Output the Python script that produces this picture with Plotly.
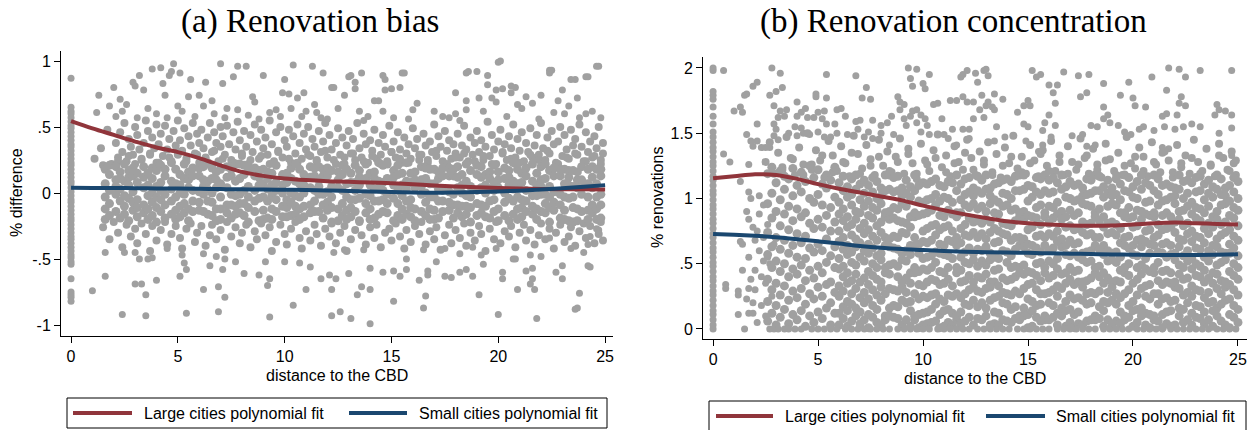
import plotly.graph_objects as go

W, H = 1248, 430
GREY = "#A0A0A0"
RED = "#90353B"
NAVY = "#1A476F"
SANS = "Liberation Sans, Arial, sans-serif"
SERIF = "Liberation Serif, Times New Roman, serif"

# ---------------- fitted curves ----------------
FIT_X = [0, 1, 2, 3, 4, 5, 6, 7, 8, 9, 10, 11, 12, 13, 14, 15, 16, 17, 18, 19, 20, 21, 22, 23, 24, 25]
A_LARGE_Y = [0.545, 0.49, 0.44, 0.39, 0.345, 0.31, 0.265, 0.21, 0.16, 0.13, 0.11, 0.098, 0.09, 0.085, 0.079,
             0.074, 0.066, 0.057, 0.05, 0.044, 0.038, 0.034, 0.031, 0.029, 0.028, 0.027]
A_SMALL_Y = [0.04, 0.039, 0.038, 0.037, 0.035, 0.034, 0.032, 0.03, 0.028, 0.027, 0.025, 0.023, 0.02, 0.016, 0.012,
             0.008, 0.004, 0.002, 0.004, 0.007, 0.012, 0.018, 0.026, 0.036, 0.048, 0.06]
B_LARGE_Y = [1.155, 1.17, 1.185, 1.18, 1.15, 1.11, 1.075, 1.045, 1.015, 0.985, 0.945, 0.91, 0.878, 0.85, 0.825,
             0.81, 0.8, 0.793, 0.79, 0.792, 0.8, 0.81, 0.815, 0.81, 0.805, 0.8]
B_SMALL_Y = [0.728, 0.722, 0.714, 0.703, 0.688, 0.672, 0.654, 0.636, 0.622, 0.612, 0.605, 0.598, 0.592, 0.588,
             0.585, 0.583, 0.58, 0.577, 0.574, 0.571, 0.569, 0.567, 0.566, 0.567, 0.569, 0.572]

# ---------------- panel (a) observations: distance in tenths, value in hundredths ----------------
A_AXIS_Y = [87, 65, 62, 60, 57, 54, 51, 49, 46, 43, 40, 37, 35, 32, 29, 26, 23, 21, 18, 15, 12, 9, 7, 4, 1, -2,
            -5, -7, -10, -13, -16, -19, -21, -24, -27, -30, -33, -35, -38, -41, -44, -47, -49, -52, -54, -65,
            -75, -77, -79, -82]

A_OUT_XY = [13, 74, 12, 61, 18, 66, 20, 80, 21, 58, 23, 71, 26, 67, 29, 84, 30, 81, 32, 89, 34, 78, 38, 94, 42, 95,
            43, 83, 46, 89, 48, 98, 47, 92, 51, 91, 56, 86, 63, 84, 70, 98, 71, 83, 76, 88, 78, 96, 82, 96, 90, 89,
            100, 86, 104, 97, 113, 96, 118, 91, 44, 74, 50, 66, 55, 73, 60, 74, 66, 70, 73, 64, 85, 73, 86, 69,
            96, 63, 99, 76, 102, 75, 106, 72, 109, 76, 110, 62, 114, 67, 117, 57,
            200, 99, 185, 91, 190, 92, 195, 89, 195, 82, 199, 78, 202, 79, 206, 81, 208, 80, 206, 76, 224, 93,
            224, 91, 234, 86, 241, 88, 246, 96, 131, 89, 136, 91, 133, 84, 133, 79, 146, 89, 147, 86, 155, 91,
            147, 78, 150, 79, 154, 80, 128, 74, 122, 80, 144, 70, 180, 76, 185, 70, 191, 72, 197, 72, 199, 69,
            209, 67, 213, 73, 220, 74, 216, 68, 228, 70, 230, 78, 237, 72, 231, 60, 241, 60, 238, 57, 162, 68,
            160, 63, 177, 57, 180, 60, 185, 63, 135, 62, 137, 55, 146, 62, 151, 57, 123, 80, 130, 88, 142, 70,
            156, 91, 186, 92, 201, 100, 225, 93, 236, 86, 242, 88, 247, 96,
            24, 62, 31, 57, 36, 64, 40, 60, 45, 57, 52, 62, 58, 58, 62, 66, 67, 60, 72, 57, 78, 63, 83, 59, 88, 56,
            93, 61, 98, 58, 103, 64, 108, 58, 115, 61, 120, 56, 125, 64, 139, 58, 158, 56, 170, 62, 174, 58,
            182, 55, 193, 62, 204, 58, 211, 64, 219, 56, 226, 61, 233, 66, 244, 62, 248, 57,
            10, -74, 16, -63, 16, -45, 24, -92, 35, -93, 30, -69, 33, -69, 35, -77, 40, -66, 25, -45, 30, -45,
            32, -50, 36, -50, 38, -49, 45, -42, 51, -63, 52, -47, 53, -53, 54, -58, 54, -91, 62, -73, 62, -46,
            65, -55, 69, -71, 69, -90, 72, -79, 68, -48, 71, -58, 72, -50, 77, -52, 81, -61, 88, -62, 91, -52,
            93, -65, 92, -70, 93, -94, 100, -52, 104, -85, 110, -73, 107, -53, 112, -56, 117, -65, 122, -93,
            122, -73, 121, -62, 126, -90, 131, -95, 140, -99, 151, -82, 165, -87, 166, -78, 191, -77, 200, -92,
            218, -95, 236, -88, 237, -87, 238, -76, 209, -73, 215, -69, 217, -73, 124, -65, 130, -61, 134, -77,
            136, -71, 140, -73, 140, -57, 146, -60, 151, -59, 154, -63, 157, -58, 163, -66, 167, -62, 171, -52,
            175, -63, 178, -64, 182, -60, 185, -58, 188, -63, 193, -54, 202, -65, 202, -60, 207, -50, 213, -59,
            216, -57, 216, -65, 227, -60, 230, -65, 230, -55, 242, -55, 243, -56, 234, -42, 240, -45, 243, -33,
            246, -27, 247, -28, 242, -39, 224, -34, 220, -48, 215, -47, 208, -50, 199, -42, 192, -47, 188, -41,
            182, -46, 175, -42, 165, -43, 167, -59, 157, -50, 137, -43, 128, -43, 123, -45]

A_UP_XY = [11, 26, 14, 34, 17, 48, 19, 22, 15, 21, 21, 38, 22, 27, 23, 46, 24, 31, 25, 53, 26, 24, 27, 41, 28, 35,
           29, 29, 30, 50, 30, 22, 31, 44, 32, 33, 33, 26, 34, 38, 35, 55, 36, 47, 37, 29, 38, 42, 39, 34, 40, 23,
           40, 52, 41, 37, 42, 45, 43, 28, 44, 51, 45, 33, 46, 41, 47, 24, 48, 47, 49, 36, 50, 29, 50, 55, 51, 40,
           52, 32, 53, 49, 54, 26, 55, 43, 56, 36, 57, 53, 58, 30, 59, 45, 60, 23, 60, 38, 61, 48, 62, 34, 63, 27,
           64, 42, 65, 53, 66, 31, 67, 46, 68, 38, 69, 24, 70, 50, 70, 35, 71, 43, 72, 29, 73, 51, 74, 37, 75, 25,
           76, 46, 77, 33, 78, 54, 79, 40, 80, 28, 81, 47, 82, 35, 83, 22, 84, 44, 85, 31, 86, 52, 87, 39, 88, 26,
           89, 48, 90, 34, 91, 42, 92, 29, 93, 55, 94, 37, 95, 24, 96, 46, 97, 32, 98, 50, 99, 27, 100, 40,
           101, 35, 102, 48, 103, 23, 104, 43, 105, 30, 106, 52, 107, 38, 108, 26, 109, 45, 110, 33, 111, 50,
           112, 28, 113, 41, 114, 35, 115, 24, 116, 47, 117, 31, 118, 39, 119, 53, 120, 27, 121, 44, 122, 33,
           123, 25, 124, 38, 125, 49, 126, 29, 127, 42, 128, 22, 129, 36, 130, 47, 131, 30, 132, 41, 133, 25,
           134, 53, 135, 34, 136, 27, 137, 45, 138, 37, 139, 23, 140, 40, 141, 32, 142, 48, 143, 26, 144, 38,
           145, 29, 146, 44, 147, 35, 148, 24, 149, 51, 150, 31, 151, 39, 152, 27, 153, 46, 154, 33, 155, 23,
           156, 42, 157, 30, 158, 37, 159, 26, 160, 49, 161, 34, 162, 41, 163, 25, 164, 29, 165, 45, 166, 36,
           167, 23, 168, 39, 169, 31, 170, 52, 171, 28, 172, 43, 173, 35, 174, 24, 175, 47, 176, 32, 177, 40,
           178, 26, 179, 37, 180, 30, 181, 45, 182, 27, 183, 36, 184, 51, 185, 33, 186, 24, 187, 42, 188, 29,
           189, 38, 190, 47, 191, 31, 192, 40, 193, 25, 194, 35, 195, 54, 196, 28, 197, 44, 198, 33, 199, 22,
           200, 39, 201, 48, 202, 30, 203, 37, 204, 25, 205, 43, 206, 34, 207, 52, 208, 27, 209, 41, 210, 32,
           211, 46, 212, 24, 213, 38, 214, 31, 215, 49, 216, 27, 217, 36, 218, 44, 219, 29, 220, 53, 221, 34,
           222, 25, 223, 42, 224, 30, 225, 47, 226, 37, 227, 23, 228, 39, 229, 50, 230, 28, 231, 44, 232, 33,
           233, 26, 234, 48, 235, 36, 236, 41, 237, 29, 238, 52, 239, 35, 240, 24, 241, 46, 242, 31, 243, 39,
           244, 27, 245, 43, 246, 34, 247, 50, 248, 25, 249, 38, 249, 30,
           22, 24, 27, 28, 33, 25, 37, 30, 41, 23, 46, 27, 50, 31, 54, 24, 59, 29, 63, 22, 67, 32, 71, 26, 76, 23,
           80, 30, 84, 25, 89, 28, 93, 22, 97, 31, 102, 26, 106, 23, 111, 29, 115, 25, 119, 32, 124, 22, 128, 27,
           132, 30, 137, 24, 141, 28, 145, 22, 150, 31, 154, 26, 158, 23, 163, 29, 167, 25, 171, 32, 176, 22,
           180, 27, 184, 30, 189, 24, 193, 28, 197, 22, 202, 31, 206, 26, 210, 23, 215, 29, 219, 25, 223, 32,
           228, 22, 232, 27, 236, 30, 241, 24, 245, 28, 248, 22]

A_LOW_XY = [15, -26, 18, -35, 20, -22, 22, -30, 24, -41, 26, -24, 28, -33, 30, -27, 31, -38, 33, -23, 35, -31,
            37, -44, 38, -25, 40, -36, 42, -28, 44, -22, 45, -39, 47, -31, 49, -25, 51, -34, 52, -42, 54, -27,
            56, -23, 58, -37, 59, -30, 61, -25, 63, -40, 65, -32, 66, -24, 68, -35, 70, -28, 72, -43, 73, -22,
            75, -33, 77, -26, 79, -38, 80, -30, 82, -24, 84, -41, 86, -29, 87, -35, 89, -23, 91, -32, 93, -26,
            94, -44, 96, -37, 98, -24, 100, -31, 101, -39, 103, -27, 105, -22, 107, -34, 108, -42, 110, -29,
            112, -36, 114, -24, 115, -31, 117, -40, 119, -27, 121, -33, 122, -23, 124, -38, 126, -30, 128, -25,
            129, -44, 131, -35, 133, -28, 135, -22, 136, -32, 138, -39, 140, -26, 142, -34, 143, -24, 145, -41,
            147, -30, 149, -27, 150, -36, 152, -23, 154, -33, 156, -42, 157, -28, 159, -37, 161, -25, 163, -31,
            164, -22, 166, -39, 168, -29, 170, -35, 171, -26, 173, -43, 175, -32, 177, -24, 178, -38, 180, -28,
            182, -34, 184, -23, 185, -40, 187, -30, 189, -36, 191, -25, 192, -31, 194, -44, 196, -27, 198, -35,
            199, -22, 201, -38, 203, -29, 205, -33, 206, -25, 208, -41, 210, -30, 212, -24, 213, -36, 215, -28,
            217, -39, 219, -32, 220, -23, 222, -35, 224, -27, 226, -42, 227, -30, 229, -24, 231, -37, 233, -33,
            234, -26, 236, -40, 238, -29, 240, -23, 241, -34, 243, -25, 245, -38, 247, -31, 248, -22, 249, -36]

A_CORE_X = [16, 18, 21, 23, 25, 27, 29, 31, 34, 36, 38, 40, 42, 44, 47, 49, 51, 53, 55, 57, 60, 62, 64, 66, 68,
            70, 73, 75, 77, 79, 81, 83, 86, 88, 90, 92, 94, 96, 99, 101, 103, 105, 107, 109, 112, 114, 116, 118,
            120, 122, 125, 127, 129, 131, 133, 135, 138, 140, 142, 144, 146, 148, 151, 153, 155, 157, 159, 161,
            164, 166, 168, 170, 172, 174, 177, 179, 181, 183, 185, 187, 190, 192, 194, 196, 198, 200, 203, 205,
            207, 209, 211, 213, 216, 218, 220, 222, 224, 226, 229, 231, 233, 235, 237, 239, 242, 244, 246, 248]
A_CORE_Y = [
    [18, 7, -3, -12, -20], [14, 2, -8, -17, 21], [10, -1, -14, 20, 5], [16, -6, -19, 3, 11], [22, 9, -10, -2, -16],
    [12, -4, -21, 6, 17], [19, -13, 1, -7, 13], [8, -18, 15, -5, -11], [20, 4, -9, -15, 12], [15, -2, -12, -20, 6],
    [11, 0, -7, -17, 19], [17, 5, -11, -3, -22], [21, -5, -14, 8, 2], [13, -9, -19, -1, 18], [9, 3, -6, -16, 23],
    [18, -3, -13, 7, -20], [14, 6, -10, -18, 0], [22, -1, -8, 11, -15], [10, -12, -21, 4, 16], [19, 2, -6, -14, 13],
    [19, -13, 1, -7, 13], [10, -1, -14, 20, 5], [9, 3, -6, -16, 23], [11, 0, -7, -17, 19], [10, -12, -21, 4, 16],
    [18, 7, -3, -12, -20], [20, 4, -9, -15, 12], [13, -9, -19, -1, 18], [22, 9, -10, -2, -16], [22, -1, -8, 11, -15],
    [14, 2, -8, -17, 21], [17, 5, -11, -3, -22], [19, 2, -6, -14, 13], [12, -4, -21, 6, 17], [18, -3, -13, 7, -20],
    [16, -6, -19, 3, 11], [15, -2, -12, -20, 6], [21, -5, -14, 8, 2], [14, 6, -10, -18, 0], [8, -18, 15, -5, -11],
    [11, 0, -7, -17, 19], [22, 9, -10, -2, -16], [18, 7, -3, -12, -20], [14, 6, -10, -18, 0], [20, 4, -9, -15, 12],
    [19, 2, -6, -14, 13], [10, -1, -14, 20, 5], [13, -9, -19, -1, 18], [19, -13, 1, -7, 13], [17, 5, -11, -3, -22],
    [10, -12, -21, 4, 16], [14, 2, -8, -17, 21], [18, -3, -13, 7, -20], [8, -18, 15, -5, -11], [21, -5, -14, 8, 2],
    [12, -4, -21, 6, 17], [22, -1, -8, 11, -15], [15, -2, -12, -20, 6], [16, -6, -19, 3, 11], [9, 3, -6, -16, 23],
    [21, -5, -14, 8, 2], [22, -1, -8, 11, -15], [12, -4, -21, 6, 17], [14, 2, -8, -17, 21], [15, -2, -12, -20, 6],
    [9, 3, -6, -16, 23], [8, -18, 15, -5, -11], [10, -12, -21, 4, 16], [10, -1, -14, 20, 5], [11, 0, -7, -17, 19],
    [18, 7, -3, -12, -20], [18, -3, -13, 7, -20], [16, -6, -19, 3, 11], [19, 2, -6, -14, 13], [19, -13, 1, -7, 13],
    [13, -9, -19, -1, 18], [20, 4, -9, -15, 12], [14, 6, -10, -18, 0], [22, 9, -10, -2, -16], [17, 5, -11, -3, -22],
    [14, 2, -8, -17, 21], [20, 4, -9, -15, 12], [14, 6, -10, -18, 0], [16, -6, -19, 3, 11], [21, -5, -14, 8, 2],
    [10, -12, -21, 4, 16], [11, 0, -7, -17, 19], [12, -4, -21, 6, 17], [9, 3, -6, -16, 23], [18, 7, -3, -12, -20],
    [8, -18, 15, -5, -11], [19, 2, -6, -14, 13], [22, 9, -10, -2, -16], [15, -2, -12, -20, 6], [10, -1, -14, 20, 5],
    [22, -1, -8, 11, -15], [17, 5, -11, -3, -22], [19, -13, 1, -7, 13], [13, -9, -19, -1, 18], [18, -3, -13, 7, -20],
    [12, -4, -21, 6, 17], [17, 5, -11, -3, -22], [10, -12, -21, 4, 16], [10, -1, -14, 20, 5], [18, -3, -13, 7, -20],
    [20, 4, -9, -15, 12], [18, 7, -3, -12, -20], [13, -9, -19, -1, 18]]

# ---------------- panel (b) observations: distance in tenths, value in hundredths ----------------
B_AXIS_Y = [0, 3, 7, 11, 14, 18, 22, 26, 29, 33, 37, 40, 44, 48, 51, 55, 59, 62, 66, 70, 73, 77, 81, 84, 88, 92,
            95, 99, 103, 106, 110, 114, 117, 121, 125, 128, 132, 136, 139, 143, 147, 151, 157, 163, 170, 176,
            179, 182, 198, 200]

B_ZERO_X = [15, 27, 29, 31, 34, 36, 39, 42, 47, 50, 53, 56, 59, 63, 66, 69, 72, 75, 78, 81, 84, 88, 91, 94, 97,
            100, 103, 107, 110, 113, 116, 119, 122, 126, 129, 132, 135, 138, 141, 145, 148, 151, 154, 157, 160,
            164, 167, 170, 173, 176, 179, 182, 186, 189, 192, 195, 198, 202, 205, 208, 211, 214, 218, 221, 224,
            227, 230, 233, 236, 240, 243, 246, 249]

B_LEFT_XY = [6, 31, 6, 34, 12, 29, 12, 26, 12, 11, 13, 67, 14, 65, 16, 90, 17, 84, 17, 31, 17, 12, 19, 12, 17, 55,
             20, 45, 22, 60, 19, 20, 23, 18, 25, 35, 21, 75, 24, 95, 18, 100, 26, 80, 27, 50, 28, 25, 29, 65,
             14, 45, 21, 5, 23, 40, 25, 10, 20, 30, 22, 88, 24, 70, 26, 55, 16, 23, 18, 38, 20, 68, 22, 102,
             24, 52, 13, 113, 17, 105, 19, 78, 5, 134, 8, 128, 17, 126, 19, 140, 21, 144, 23, 139, 25, 139,
             27, 139, 16, 149, 18, 144]

B_UP_XY = [5, 198, 10, 167, 13, 170, 14, 166, 15, 179, 16, 180, 19, 186, 21, 189, 21, 157, 27, 179, 28, 200,
           30, 182, 29, 171, 32, 196, 33, 185, 54, 195, 68, 194, 73, 185, 71, 177, 75, 176, 93, 200, 97, 199,
           103, 195, 94, 192, 100, 188, 95, 186, 101, 184, 118, 193, 121, 198, 119, 195, 32, 167, 35, 168,
           34, 163, 31, 162, 29, 148, 29, 157, 30, 153, 31, 145, 36, 150, 39, 155, 40, 148, 43, 150, 42, 154,
           40, 163, 42, 166, 45, 162, 48, 162, 50, 166, 53, 167, 52, 161, 54, 157, 40, 174, 44, 169, 49, 178,
           54, 177, 49, 180, 46, 149, 50, 151, 53, 147, 56, 147, 58, 157, 59, 150, 61, 169, 63, 163, 59, 168,
           64, 149, 68, 159, 70, 160, 69, 153, 72, 147, 74, 151, 73, 141, 76, 146, 76, 160, 80, 156, 80, 150,
           83, 158, 85, 163, 86, 149, 84, 141, 88, 178, 89, 174, 89, 168, 91, 172, 91, 161, 92, 156, 94, 163,
           95, 167, 97, 168, 99, 164, 97, 158, 99, 151, 101, 161, 102, 156, 103, 149, 105, 172, 107, 173,
           109, 161, 110, 149, 113, 175, 116, 175, 119, 178, 121, 174, 114, 153, 119, 153, 122, 146, 112, 146,
           116, 141, 125, 196, 129, 198, 130, 199, 131, 194, 126, 189, 152, 198, 154, 193, 156, 195, 167, 197,
           174, 194, 179, 195, 186, 188, 198, 189, 209, 193, 217, 200, 222, 199, 225, 193, 232, 198, 247, 198,
           216, 183, 223, 178, 222, 173, 225, 171, 194, 179, 200, 177, 201, 171, 206, 170, 175, 178, 178, 181,
           160, 187, 164, 187, 162, 181, 163, 173, 150, 175, 148, 171, 151, 171, 145, 166, 128, 179, 134, 180,
           138, 176, 131, 174, 133, 170, 240, 172, 241, 168, 239, 164, 244, 167, 247, 164, 232, 155, 228, 157,
           241, 150, 247, 154, 214, 163, 216, 165, 221, 164, 210, 152, 215, 155, 220, 153, 224, 155, 214, 139,
           217, 138, 243, 131, 247, 133, 193, 156, 196, 151, 199, 149, 203, 153, 205, 155, 186, 170, 188, 164,
           186, 161, 189, 158, 180, 156, 183, 155, 171, 148, 176, 149, 178, 140, 182, 141, 160, 164, 158, 158,
           157, 152, 163, 156, 161, 147, 148, 157, 150, 155, 149, 144, 157, 141, 155, 136, 124, 174, 127, 168,
           130, 171, 129, 162, 124, 161, 122, 153, 134, 168, 135, 155, 134, 144, 139, 147]

B_MID_XY = [25, 128, 27, 143, 29, 119, 31, 135, 33, 124, 35, 147, 37, 131, 39, 118, 41, 139, 43, 126, 45, 150,
            47, 122, 49, 137, 51, 129, 53, 116, 55, 144, 57, 133, 59, 121, 61, 140, 63, 127, 65, 117, 67, 148,
            69, 134, 71, 123, 73, 141, 75, 130, 77, 118, 79, 145, 81, 125, 83, 136, 85, 120, 87, 132, 89, 146,
            91, 119, 93, 138, 95, 127, 97, 115, 99, 142, 101, 129, 103, 121, 105, 137, 107, 149, 109, 124,
            111, 133, 113, 117, 115, 140, 117, 128, 119, 122, 121, 145, 123, 131, 125, 118, 127, 136, 129, 126,
            131, 143, 133, 120, 135, 134, 137, 116, 139, 139, 141, 127, 143, 148, 145, 123, 147, 132, 149, 119,
            151, 141, 153, 129, 155, 117, 157, 137, 159, 125, 161, 144, 163, 121, 165, 133, 167, 118, 169, 140,
            171, 128, 173, 122, 175, 146, 177, 131, 179, 119, 181, 138, 183, 126, 185, 116, 187, 142, 189, 130,
            191, 121, 193, 135, 195, 118, 197, 147, 199, 127, 201, 123, 203, 139, 205, 132, 207, 117, 209, 143,
            211, 126, 213, 120, 215, 136, 217, 129, 219, 116, 221, 141, 223, 124, 225, 133, 227, 119, 229, 145,
            231, 128, 233, 121, 235, 138, 237, 125, 239, 117, 241, 142, 243, 131, 245, 122, 247, 136, 249, 118,
            248, 127,
            33, 122, 38, 130, 43, 118, 47, 126, 52, 133, 57, 120, 62, 128, 66, 135, 70, 119, 75, 125, 79, 132,
            84, 121, 88, 128, 93, 134, 97, 119, 102, 126, 106, 131, 111, 120, 115, 127, 120, 135, 124, 122,
            129, 129, 133, 118, 138, 125, 142, 132, 147, 120, 151, 127, 156, 134, 160, 121, 165, 128, 169, 119,
            174, 126, 178, 133, 183, 122, 187, 129, 192, 118, 196, 125, 201, 132, 205, 121, 210, 128, 214, 135,
            219, 120, 223, 127, 228, 131, 232, 119, 237, 126, 241, 133, 246, 121, 249, 129]

B_DENSE_X = [26, 28, 30, 32, 34, 36, 38, 40, 42, 44, 46, 48, 50, 52, 54, 56, 58, 60, 62, 64, 66, 68, 70, 72, 74,
             76, 78, 80, 82, 84, 86, 88, 90, 92, 94, 96, 98, 100, 102, 104, 106, 108, 110, 112, 114, 116, 118,
             120, 122, 124, 126, 128, 130, 132, 134, 136, 138, 140, 142, 144, 146, 148, 150, 152, 154, 156, 158,
             160, 162, 164, 166, 168, 170, 172, 174, 176, 178, 180, 182, 184, 186, 188, 190, 192, 194, 196, 198,
             200, 202, 204, 206, 208, 210, 212, 214, 216, 218, 220, 222, 224, 226, 228, 230, 232, 234, 236, 238,
             240, 242, 244, 246, 248, 250]
B_DENSE_Y = [
    [6, 21, 38, 57, 74, 96, 119], [12, 30, 47, 63, 85, 104, 124], [3, 18, 35, 52, 70, 90, 112],
    [9, 26, 44, 61, 79, 99, 121], [15, 33, 50, 68, 88, 107, 117], [4, 22, 40, 58, 76, 94, 115],
    [11, 29, 46, 64, 83, 102, 123], [7, 24, 42, 55, 73, 92, 110], [14, 31, 49, 66, 86, 105, 120],
    [2, 19, 37, 54, 71, 89, 113], [10, 27, 45, 62, 81, 100, 125], [5, 23, 39, 59, 77, 97, 116],
    [13, 32, 48, 65, 84, 103, 122], [8, 25, 43, 60, 78, 95, 111], [16, 34, 51, 69, 87, 108, 118],
    [3, 20, 36, 56, 75, 93, 114], [12, 28, 47, 63, 82, 101, 124],
    [3, 12, 25, 33, 46, 54, 67, 75, 88, 97, 112], [8, 17, 29, 40, 48, 61, 70, 83, 92, 106, 117],
    [2, 14, 21, 35, 43, 57, 64, 78, 86, 101, 109], [6, 19, 27, 37, 51, 59, 72, 80, 95, 103, 115],
    [10, 16, 31, 42, 49, 63, 69, 84, 90, 107, 118], [4, 13, 24, 36, 55, 66, 77, 89, 99, 111],
    [7, 20, 28, 39, 52, 60, 73, 81, 94, 104, 114], [1, 11, 23, 34, 44, 58, 65, 76, 87, 98, 110],
    [9, 18, 30, 41, 50, 62, 71, 85, 93, 105, 116], [5, 15, 26, 38, 47, 56, 68, 79, 91, 100, 113],
    [3, 22, 32, 36, 53, 58, 74, 82, 96, 102, 108], [7, 10, 27, 43, 47, 64, 70, 86, 89, 106, 118],
    [10, 16, 31, 42, 49, 63, 69, 84, 90, 107, 118], [9, 18, 30, 50, 62, 71, 85, 93, 105, 116],
    [8, 17, 29, 40, 48, 61, 70, 83, 92, 106, 117], [3, 22, 32, 36, 53, 58, 74, 82, 96, 102, 108],
    [7, 20, 28, 39, 52, 60, 73, 81, 94, 104, 114], [2, 14, 21, 35, 43, 57, 64, 78, 86, 101, 109],
    [7, 10, 27, 43, 47, 64, 70, 86, 89, 106, 118], [1, 11, 23, 34, 44, 58, 65, 87, 98, 110],
    [3, 12, 25, 33, 46, 54, 67, 75, 88, 97, 112], [4, 13, 24, 36, 45, 55, 66, 77, 89, 99, 111],
    [5, 15, 26, 38, 47, 56, 68, 79, 91, 100, 113], [6, 19, 27, 37, 51, 59, 72, 80, 95, 103, 115],
    [1, 11, 23, 34, 44, 58, 65, 76, 87, 98, 110], [2, 14, 21, 35, 43, 57, 64, 78, 86, 101, 109],
    [5, 15, 26, 38, 47, 56, 68, 79, 91, 100, 113], [3, 12, 25, 33, 54, 67, 75, 88, 97, 112],
    [7, 10, 27, 43, 47, 64, 70, 86, 89, 106, 118], [4, 13, 24, 36, 45, 55, 66, 77, 89, 99, 111],
    [6, 19, 27, 37, 51, 59, 72, 80, 95, 103, 115], [9, 18, 30, 41, 50, 62, 71, 85, 93, 105, 116],
    [3, 22, 32, 36, 53, 58, 74, 82, 96, 102, 108], [8, 17, 29, 40, 48, 61, 70, 83, 92, 106, 117],
    [7, 20, 28, 39, 52, 60, 73, 81, 94, 104, 114], [10, 16, 31, 42, 49, 63, 69, 84, 90, 107, 118],
    [3, 22, 32, 36, 53, 58, 74, 82, 96, 102, 108], [4, 13, 24, 36, 45, 55, 66, 77, 89, 99, 111],
    [3, 12, 25, 33, 46, 54, 67, 75, 88, 97, 112], [7, 20, 28, 39, 60, 73, 81, 94, 104, 114],
    [6, 19, 27, 37, 51, 59, 72, 80, 95, 103, 115], [5, 15, 26, 38, 47, 56, 68, 79, 91, 100, 113],
    [8, 17, 29, 40, 48, 61, 70, 83, 92, 106, 117], [7, 10, 27, 43, 47, 64, 70, 86, 89, 106, 118],
    [10, 16, 31, 42, 49, 63, 69, 84, 90, 107, 118], [1, 11, 23, 34, 44, 58, 65, 76, 87, 98, 110],
    [2, 14, 21, 35, 43, 57, 64, 78, 86, 101, 109], [9, 18, 30, 41, 50, 62, 71, 85, 93, 105, 116],
    [6, 19, 27, 37, 51, 59, 72, 80, 95, 103, 115], [7, 10, 27, 43, 47, 64, 70, 86, 89, 106, 118],
    [7, 20, 28, 39, 52, 60, 73, 81, 94, 104, 114], [9, 18, 30, 41, 50, 62, 71, 85, 93, 105, 116],
    [3, 12, 25, 33, 46, 54, 67, 75, 88, 97, 112], [10, 16, 31, 42, 63, 69, 84, 90, 107, 118],
    [2, 14, 21, 35, 43, 57, 64, 78, 86, 101, 109], [5, 15, 26, 38, 47, 56, 68, 79, 91, 100, 113],
    [1, 11, 23, 34, 44, 58, 65, 76, 87, 98, 110], [4, 13, 24, 36, 45, 55, 66, 77, 89, 99, 111],
    [3, 22, 32, 36, 53, 58, 74, 82, 96, 102, 108], [6, 19, 27, 37, 51, 59, 72, 80, 95, 103, 115],
    [7, 20, 28, 39, 52, 60, 73, 81, 94, 104, 114], [7, 10, 27, 43, 47, 64, 70, 86, 89, 106, 118],
    [8, 17, 29, 40, 48, 61, 70, 83, 92, 106, 117], [2, 14, 21, 35, 43, 57, 64, 78, 86, 101, 109],
    [7, 20, 28, 39, 52, 60, 73, 81, 94, 104, 114], [3, 22, 32, 36, 53, 58, 74, 82, 96, 102, 108],
    [6, 19, 27, 37, 51, 59, 72, 80, 95, 103, 115], [4, 13, 24, 36, 45, 55, 66, 77, 89, 99, 111],
    [7, 10, 27, 43, 47, 64, 70, 86, 89, 106, 118], [9, 18, 30, 41, 50, 62, 71, 85, 93, 105, 116],
    [2, 14, 21, 35, 57, 64, 78, 86, 101, 109], [5, 15, 26, 38, 47, 56, 68, 79, 91, 100, 113],
    [10, 16, 31, 42, 49, 63, 69, 84, 90, 107, 118], [3, 12, 25, 33, 46, 54, 67, 75, 88, 97, 112],
    [1, 11, 23, 34, 44, 58, 65, 76, 87, 98, 110], [7, 10, 27, 43, 47, 64, 70, 86, 89, 106, 118],
    [6, 19, 27, 37, 51, 59, 72, 80, 95, 103, 115], [1, 11, 23, 34, 44, 58, 65, 76, 87, 98, 110],
    [4, 13, 24, 36, 45, 55, 66, 77, 89, 99, 111], [2, 14, 21, 35, 43, 57, 64, 78, 86, 101, 109],
    [3, 22, 32, 36, 53, 58, 74, 82, 96, 102, 108], [10, 16, 31, 42, 49, 63, 69, 84, 90, 107, 118],
    [5, 15, 26, 38, 47, 56, 68, 79, 91, 100, 113], [7, 20, 28, 39, 52, 60, 73, 81, 94, 104, 114],
    [3, 12, 25, 33, 46, 54, 67, 75, 88, 97, 112], [9, 18, 30, 41, 50, 62, 71, 85, 93, 105, 116],
    [8, 17, 29, 40, 48, 61, 70, 83, 92, 106, 117],
    [4, 13, 24, 36, 45, 55, 66, 77, 89, 99, 111], [7, 20, 28, 39, 52, 60, 73, 81, 94, 104, 114],
    [2, 14, 21, 35, 43, 57, 64, 78, 86, 101, 109], [10, 16, 31, 42, 49, 63, 69, 84, 90, 107, 118],
    [6, 19, 27, 37, 51, 59, 72, 80, 95, 103, 115], [3, 22, 32, 36, 53, 58, 74, 82, 96, 102, 108],
    [1, 11, 23, 34, 44, 58, 65, 76, 87, 98, 110], [9, 18, 30, 41, 50, 62, 71, 85, 93, 105, 116],
    [5, 15, 26, 38, 47, 56, 68, 79, 91, 100, 113], [7, 10, 27, 43, 47, 64, 70, 86, 89, 106, 118],
    [3, 12, 25, 33, 46, 54, 67, 75, 88, 97, 112], [8, 17, 29, 40, 48, 61, 70, 83, 92, 106, 117]]

SPARSE_SIZE = 7
MID_SIZE = 8
DENSE_SIZE = 9


def unpack(flat):
    return flat[0::2], flat[1::2]


def collect(axis_y, sparse_flats, mid_flats, col_x, col_y, extra_zero=None):
    xs, ys, sizes = [0] * len(axis_y), list(axis_y), [SPARSE_SIZE] * len(axis_y)
    for flats, size in ((sparse_flats, SPARSE_SIZE), (mid_flats, MID_SIZE)):
        for flat in flats:
            fx, fy = unpack(flat)
            xs += fx
            ys += fy
            sizes += [size] * len(fx)
    for x, col in zip(col_x, col_y):
        xs += [x] * len(col)
        ys += col
        sizes += [DENSE_SIZE] * len(col)
    if extra_zero:
        xs += extra_zero
        ys += [0] * len(extra_zero)
        sizes += [SPARSE_SIZE] * len(extra_zero)
    return [v / 10 for v in xs], [v / 100 for v in ys], sizes


ax, ay, asz = collect(A_AXIS_Y, [A_OUT_XY], [A_UP_XY, A_LOW_XY], A_CORE_X, A_CORE_Y)
bx, by, bsz = collect(B_AXIS_Y, [B_LEFT_XY, B_UP_XY], [B_MID_XY], B_DENSE_X, B_DENSE_Y, B_ZERO_X)

fig = go.Figure()
fig.add_trace(go.Scatter(x=ax, y=ay, mode="markers",
                         marker=dict(color=GREY, size=asz, opacity=1, line=dict(width=0)),
                         xaxis="x", yaxis="y", showlegend=False, hoverinfo="skip"))
fig.add_trace(go.Scatter(x=bx, y=by, mode="markers",
                         marker=dict(color=GREY, size=bsz, opacity=1, line=dict(width=0)),
                         xaxis="x2", yaxis="y2", showlegend=False, hoverinfo="skip"))
for xa, ya, ly, sy in (("x", "y", A_LARGE_Y, A_SMALL_Y), ("x2", "y2", B_LARGE_Y, B_SMALL_Y)):
    fig.add_trace(go.Scatter(x=FIT_X, y=ly, mode="lines", name="Large cities polynomial fit",
                             line=dict(color=RED, width=4, shape="spline"), xaxis=xa, yaxis=ya, showlegend=False))
    fig.add_trace(go.Scatter(x=FIT_X, y=sy, mode="lines", name="Small cities polynomial fit",
                             line=dict(color=NAVY, width=4, shape="spline"), xaxis=xa, yaxis=ya, showlegend=False))


def px(p):
    return p / W


def py(p):
    return 1 - p / H


common = dict(showline=True, linecolor="black", linewidth=1, ticks="outside", ticklen=6, tickwidth=1,
              tickcolor="black", showgrid=False, zeroline=False,
              tickfont=dict(family=SANS, size=16, color="black"))
XT = [0, 5, 10, 15, 20, 25]
fig.update_layout(
    width=W, height=H, autosize=False, margin=dict(l=0, r=0, t=0, b=0),
    paper_bgcolor="white", plot_bgcolor="white", showlegend=False,
    xaxis=dict(domain=[px(61), px(613)], range=[-0.47, 25.37], tickvals=XT, anchor="y", **common),
    yaxis=dict(domain=[py(336), py(51)], range=[-1.083, 1.076], tickvals=[-1, -0.5, 0, 0.5, 1],
               ticktext=["-1", "-.5", "0", ".5", "1"], anchor="x", **common),
    xaxis2=dict(domain=[px(703), px(1247)], range=[-0.48, 25.43], tickvals=XT, anchor="y2", **common),
    yaxis2=dict(domain=[py(339), py(57)], range=[-0.077, 2.084], tickvals=[0, 0.5, 1, 1.5, 2],
                ticktext=["0", ".5", "1", "1.5", "2"], anchor="x2", **common),
)

ann = []
shapes = []


def text(x, y, s, size=16, family=SANS, angle=0, xanchor="center"):
    ann.append(dict(x=px(x), y=py(y), xref="paper", yref="paper", text=s, showarrow=False,
                    font=dict(family=family, size=size, color="black"), textangle=angle,
                    xanchor=xanchor, yanchor="middle"))


text(310, 22, "(a) Renovation bias", size=33, family=SERIF)
text(954, 22, "(b) Renovation concentration", size=33, family=SERIF)
text(337, 375, "distance to the CBD")
text(975, 378, "distance to the CBD")
text(16, 193, "% difference", angle=-90)
text(657, 198, "% renovations", angle=-90)

# legends
for (x0, x1, y0, y1, r0, r1, rt, b0, b1, bt) in ((67, 607, 398, 428, 73, 132, 142, 349, 407, 417),
                                                 (709, 1246, 401, 431, 716, 773, 783, 986, 1045, 1054)):
    shapes.append(dict(type="rect", xref="paper", yref="paper", x0=px(x0), x1=px(x1), y0=py(y1), y1=py(y0),
                       line=dict(color="black", width=1), fillcolor="white", layer="above"))
    ym = (y0 + y1) / 2
    shapes.append(dict(type="line", xref="paper", yref="paper", x0=px(r0), x1=px(r1), y0=py(ym), y1=py(ym),
                       line=dict(color=RED, width=4)))
    shapes.append(dict(type="line", xref="paper", yref="paper", x0=px(b0), x1=px(b1), y0=py(ym), y1=py(ym),
                       line=dict(color=NAVY, width=4)))
    text(rt, ym, "Large cities polynomial fit", xanchor="left")
    text(bt, ym, "Small cities polynomial fit", xanchor="left")

fig.update_layout(annotations=ann, shapes=shapes)
fig.write_html("out.html", config={"displayModeBar": False},
               post_script="document.body.style.margin='0';document.body.style.overflow='hidden';")
